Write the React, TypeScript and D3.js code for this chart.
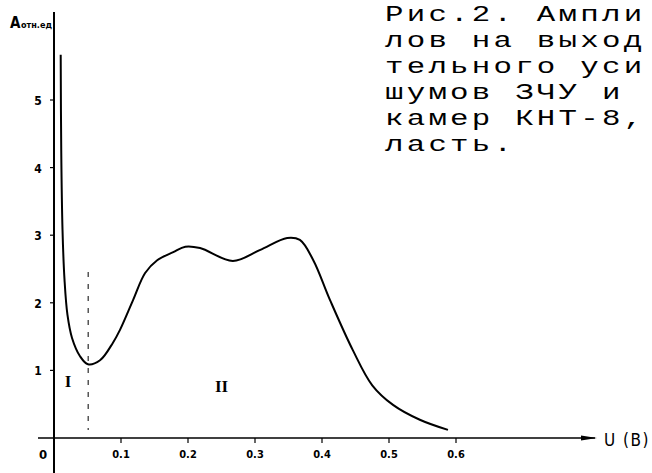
import React from "react";
import * as d3 from "d3";

const W = 652;
const H = 473;

// curve A(U)
const uValues = [0.0100, 0.0108, 0.0127, 0.0157, 0.0201, 0.0269, 0.0388, 0.0507, 0.0687, 0.088, 0.0985, 0.118, 0.136, 0.154, 0.178, 0.196, 0.218, 0.267, 0.307, 0.348, 0.367, 0.387, 0.412, 0.446, 0.475, 0.506, 0.546, 0.588];
const aValues = [5.67, 4.26, 3.08, 2.34, 1.82, 1.48, 1.21, 1.09, 1.15, 1.41, 1.60, 2.04, 2.44, 2.63, 2.75, 2.83, 2.81, 2.62, 2.78, 2.96, 2.93, 2.63, 2.04, 1.30, 0.78, 0.49, 0.27, 0.12];

const xTicks = [0.1, 0.2, 0.3, 0.4, 0.5, 0.6];
const xTickLabels = ["0.1", "0.2", "0.3", "0.4", "0.5", "0.6"];
const yTicks = [1, 2, 3, 4, 5];
const yTickLabels = ["1", "2", "3", "4", "5"];

const captionLines = ["Рис.2. Ампли", "лов на выход", "тельного уси", "шумов ЗЧУ и", "камер КНТ-8,", "ласть."];
const dividerU = 0.051;
const regionLabels = [
  { u: 0.021, a: 0.75, text: "I" },
  { u: 0.250, a: 0.68, text: "II" },
];

export default function App() {
  const x = d3.scaleLinear().domain([0, 0.1]).range([54, 121]);
  const y = d3.scaleLinear().domain([0, 1]).range([438, 370.4]);

  const pts: [number, number][] = uValues.map((u, i) => [x(u), y(aValues[i])]);
  const line = d3.line().curve(d3.curveCatmullRom.alpha(0.5))(pts) || "";

  const hand = "'DejaVu Sans Condensed', 'DejaVu Sans', sans-serif";

  return (
    <svg width={W} height={H} style={{ position: "absolute", left: 0, top: 0, background: "#fff" }}>
      <rect width={W} height={H} fill="#fff" />
      {/* y axis */}
      <line x1={x(0)} y1={12} x2={x(0)} y2={473} stroke="#000" strokeWidth={2} />
      {/* x axis */}
      <line x1={38} y1={y(0)} x2={595} y2={y(0)} stroke="#000" strokeWidth={1.6} />
      <path d={`M597,${y(0)} l-16,-2.5 l0,5 z`} fill="#000" />
      {xTicks.map((t, i) => (
        <g key={"xt" + i}>
          <line x1={x(t)} y1={y(0)} x2={x(t)} y2={y(0) + 5} stroke="#000" strokeWidth={1.2} />
          <text x={x(t)} y={y(0) + 20} fontFamily={hand} fontSize={11} textAnchor="middle" fontWeight="bold">{xTickLabels[i]}</text>
        </g>
      ))}
      <text x={43} y={y(0) + 21} fontFamily={hand} fontSize={13} textAnchor="middle" fontWeight="bold">0</text>
      {yTicks.map((t, i) => (
        <g key={"yt" + i}>
          <line x1={x(0) - 4} y1={y(t)} x2={x(0)} y2={y(t)} stroke="#000" strokeWidth={1.2} />
          <text x={38} y={y(t) + 5} fontFamily={hand} fontSize={12} textAnchor="middle" fontWeight="bold">{yTickLabels[i]}</text>
        </g>
      ))}
      <text x={10} y={28} fontFamily={hand} fontSize={15} fontWeight="bold">A</text>
      <text x={21} y={28} fontFamily={hand} fontSize={9} fontWeight="bold">отн.ед</text>
      <text x={604} y={446} fontFamily={hand} fontSize={17} letterSpacing={1.5} xmlSpace="preserve" style={{ whiteSpace: "pre" }}>U (B)</text>
      {/* divider */}
      <line x1={x(dividerU)} y1={272} x2={x(dividerU)} y2={430} stroke="#000" strokeWidth={1} strokeDasharray="5,7" />
      {regionLabels.map((r, i) => (
        <text key={"r" + i} x={x(r.u)} y={y(r.a)} fontFamily="'Liberation Serif', serif" fontSize={17} textAnchor="middle" fontWeight="bold">{r.text}</text>
      ))}
      <path d={line} fill="none" stroke="#000" strokeWidth={2} />
      <g transform="translate(385,0) scale(1.4,1)">
        {captionLines.map((l, i) => (
          <text key={"c" + i} x={0} y={21 + i * 26} fontFamily="'Liberation Mono', monospace" fontSize={22} letterSpacing={2.3} xmlSpace="preserve" style={{ whiteSpace: "pre" }}>{l}</text>
        ))}
      </g>
    </svg>
  );
}
